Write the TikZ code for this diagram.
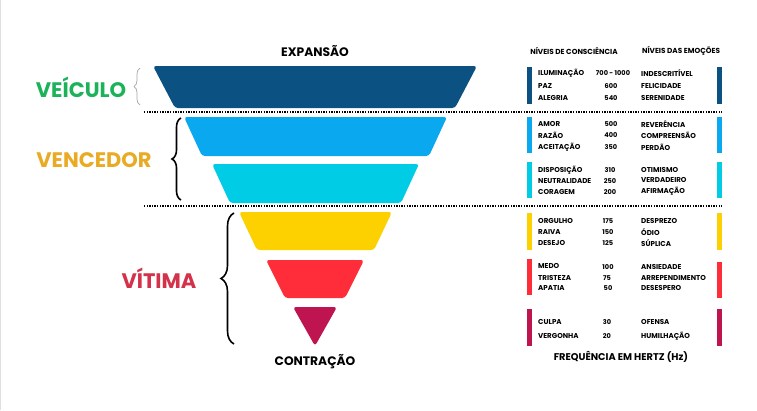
\documentclass[tikz,border=0pt]{standalone}
\usepackage{fontspec}
\setmainfont{Poppins}
\usetikzlibrary{decorations.pathreplacing}
\definecolor{cdark}{HTML}{0B5282}
\definecolor{clight}{HTML}{0AA8EE}
\definecolor{ccyan}{HTML}{00CDE5}
\definecolor{cyel}{HTML}{FDD000}
\definecolor{cred}{HTML}{FF2C3A}
\definecolor{ccrim}{HTML}{BE1550}
\definecolor{cgreen}{HTML}{1BB25A}
\definecolor{cgold}{HTML}{E9AA24}
\definecolor{cvit}{HTML}{D3324A}
\tikzset{
  seg/.style={rounded corners=3pt},
  big/.style={font=\bfseries\fontsize{21}{22}\selectfont, inner sep=0pt},
  head/.style={font=\bfseries\fontsize{12.3}{13}\selectfont, inner sep=0pt},
  coltitle/.style={font=\bfseries\fontsize{7.3}{8}\selectfont, inner sep=0pt},
  rowtxt/.style={font=\bfseries\fontsize{7.1}{8}\selectfont, inner sep=0pt, anchor=west},
  numtxt/.style={font=\bfseries\fontsize{6.6}{7}\selectfont, inner sep=0pt},
  dotline/.style={line width=1.3pt, dash pattern=on 1.3pt off 1.3pt},
  thickbrace/.style={decorate, decoration={brace, amplitude=9pt}, line width=1.6pt},
}
\begin{document}
\begin{tikzpicture}[x=1pt,y=-1pt]
\useasboundingbox (0,0) rectangle (757,410);
\fill[white] (0,0) rectangle (757,410);
\draw[gray!25, line width=1pt] (0.5,0) -- (0.5,410);

% funnel
\fill[cdark, seg] (153,66) -- (477,66) -- (455,108) -- (175,108) -- cycle;
\fill[clight, seg] (184,117) -- (447,117) -- (429,156) -- (202,156) -- cycle;
\fill[ccyan, seg] (212,164) -- (419,164) -- (401,203) -- (230,203) -- cycle;
\fill[cyel, seg] (239,212) -- (392,212) -- (374,250) -- (257,250) -- cycle;
\fill[cred, seg] (266,260) -- (364,260) -- (345,298) -- (285,298) -- cycle;
\fill[ccrim, seg] (293,307) -- (337,307) -- (315,346) -- cycle;

\node[head] (exp) at (315,51) {EXPANSÃO};
\node[head] (con) at (315,362) {CONTRAÇÃO};

% dotted separators
\coordinate (d1a) at (144,112); \coordinate (d1b) at (722,112);
\coordinate (d2a) at (144,206); \coordinate (d2b) at (722,206);
\draw[dotline] (d1a) -- (d1b);
\draw[dotline] (d2a) -- (d2b);

% left labels
\node[big, text=cgreen] (veic) at (81,87) {VEÍCULO};
\node[big, text=cgold] (venc) at (94,160) {VENCEDOR};
\node[big, text=cvit] (vit) at (159,278) {VÍTIMA};

\coordinate (b1a) at (140,105); \coordinate (b1b) at (140,68);
\draw[decorate, decoration={brace, amplitude=6pt}, gray!70, line width=0.7pt] (b1a) -- (b1b);
\coordinate (b2a) at (181,200); \coordinate (b2b) at (181,118);
\draw[thickbrace] (b2a) -- (b2b);
\coordinate (b3a) at (234,344); \coordinate (b3b) at (234,213);
\draw[thickbrace, decoration={brace, amplitude=13pt}] (b3a) -- (b3b);

% right table
\node[coltitle] (t1) at (574,51) {NÍVEIS DE CONSCIÊNCIA};
\node[coltitle] (t2) at (681,51) {NÍVEIS DAS EMOÇÕES};

% bars
\fill[cdark] (527,67) rectangle (532,104);  \fill[cdark] (717,67) rectangle (722,104);
\fill[clight] (527,117) rectangle (532,153); \fill[clight] (717,117) rectangle (722,153);
\fill[ccyan] (527,162) rectangle (532,198);  \fill[ccyan] (717,162) rectangle (722,198);
\fill[cyel] (527,213) rectangle (532,250);   \fill[cyel] (717,213) rectangle (722,250);
\fill[cred] (527,259) rectangle (532,295);   \fill[cred] (717,262) rectangle (722,298);
\fill[ccrim] (527,309) rectangle (532,346);  \fill[ccrim] (717,309) rectangle (722,346);

% group 1
\node[rowtxt] (a1) at (538,73) {ILUMINAÇÃO}; \node[numtxt] (n1) at (613,73) {700 - 1000}; \node[rowtxt] (e1) at (641,73) {INDESCRITÍVEL};
\node[rowtxt] (a2) at (538,86) {PAZ};        \node[numtxt] (n2) at (611,86) {600};        \node[rowtxt] (e2) at (641,86) {FELICIDADE};
\node[rowtxt] (a3) at (538,98) {ALEGRIA};    \node[numtxt] (n3) at (611,98) {540};        \node[rowtxt] (e3) at (641,98) {SERENIDADE};
% group 2
\node[rowtxt] (a4) at (538,124) {AMOR};      \node[numtxt] (n4) at (611,124) {500}; \node[rowtxt] (e4) at (641,124) {REVERÊNCIA};
\node[rowtxt] (a5) at (538,135) {RAZÃO};     \node[numtxt] (n5) at (611,135) {400}; \node[rowtxt] (e5) at (641,135) {COMPREENSÃO};
\node[rowtxt] (a6) at (538,147) {ACEITAÇÃO}; \node[numtxt] (n6) at (611,147) {350}; \node[rowtxt] (e6) at (641,147) {PERDÃO};
% group 3
\node[rowtxt] (a7) at (538,170) {DISPOSIÇÃO};   \node[numtxt] (n7) at (610,170) {310}; \node[rowtxt] (e7) at (641,170) {OTIMISMO};
\node[rowtxt] (a8) at (538,181) {NEUTRALIDADE}; \node[numtxt] (n8) at (610,181) {250}; \node[rowtxt] (e8) at (641,180) {VERDADEIRO};
\node[rowtxt] (a9) at (538,192) {CORAGEM};      \node[numtxt] (n9) at (610,192) {200}; \node[rowtxt] (e9) at (641,191) {AFIRMAÇÃO};
% group 4
\node[rowtxt] (a10) at (538,221) {ORGULHO}; \node[numtxt] (n10) at (608,221) {175}; \node[rowtxt] (e10) at (641,221) {DESPREZO};
\node[rowtxt] (a11) at (538,232) {RAIVA};   \node[numtxt] (n11) at (608,232) {150}; \node[rowtxt] (e11) at (641,232) {ÓDIO};
\node[rowtxt] (a12) at (538,243) {DESEJO};  \node[numtxt] (n12) at (608,243) {125}; \node[rowtxt] (e12) at (641,243) {SÚPLICA};
% group 5
\node[rowtxt] (a13) at (538,266) {MEDO};     \node[numtxt] (n13) at (608,267) {100}; \node[rowtxt] (e13) at (641,267) {ANSIEDADE};
\node[rowtxt] (a14) at (538,278) {TRISTEZA}; \node[numtxt] (n14) at (607,278) {75};  \node[rowtxt] (e14) at (641,278) {ARREPENDIMENTO};
\node[rowtxt] (a15) at (538,288) {APATIA};   \node[numtxt] (n15) at (608,288) {50};  \node[rowtxt] (e15) at (641,288) {DESESPERO};
% group 6
\node[rowtxt] (a16) at (538,322) {CULPA};    \node[numtxt] (n16) at (607,322) {30}; \node[rowtxt] (e16) at (641,322) {OFENSA};
\node[rowtxt] (a17) at (538,336) {VERGONHA}; \node[numtxt] (n17) at (607,336) {20}; \node[rowtxt] (e17) at (641,336) {HUMILHAÇÃO};

\node[font=\bfseries\fontsize{9.8}{11}\selectfont, inner sep=0pt] (freq) at (621,357) {FREQUÊNCIA EM HERTZ (Hz)};
\end{tikzpicture}
\end{document}
